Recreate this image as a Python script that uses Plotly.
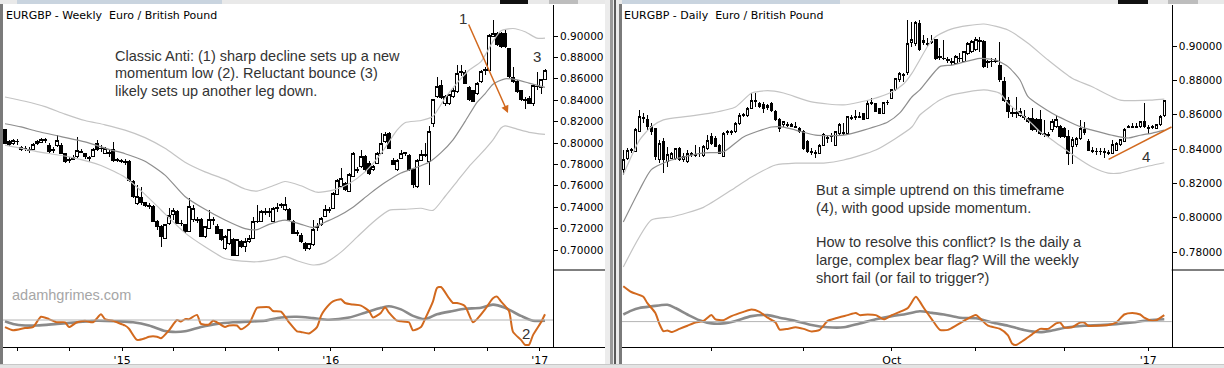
import numpy as np
import pandas as pd
import plotly.graph_objects as go

W, H = 1224, 368

# ---------------- Weekly EURGBP ----------------
wk_start = "2014-06-10"
wk_open = [.8122,.8013,.7994,.8010,.7935,.7953,.7940,.7941,.7997,.8003,.8025,.7981,.7930,.7975,.7981,.7904,.7835,.7850,.7872,.7925,
           .7900,.7866,.7872,.7997,.7950,.7904,.7910,.7935,.7845,.7835,.7830,.7826,.7639,.7436,.7490,.7440,.7420,.7405,.7265,.7218,
           .7109,.7249,.7330,.7358,.7250,.7234,.7171,.7281,.7285,.7281,.7125,.7203,.7275,.7218,.7187,.7016,.7062,.7094,.6953,.7078,
           .7031,.7080,.7109,.7262,.7265,.7355,.7360,.7265,.7390,.7415,.7374,.7374,.7265,.7160,.7140,.7062,.7016,.7047,.7220,.7234,
           .7312,.7370,.7390,.7515,.7592,.7623,.7545,.7685,.7752,.7779,.7872,.7810,.7748,.7810,.7904,.8013,.8090,.7841,.7748,.7857,
           .7900,.7880,.7748,.7592,.7841,.7885,.7826,.8184,.8433,.8533,.8365,.8371,.8433,.8480,.8660,.8660,.8520,.8489,.8458,.8573,
           .8675,.8682,.9000,.9025,.9020,.9025,.8880,.8614,.8573,.8489,.8405,.8418,.8365,.8530,.8520,.8595]
wk_high = [.8128,.8028,.8035,.8035,.7972,.7972,.7960,.7997,.8028,.8044,.8044,.8000,.7966,.8075,.8000,.7910,.7872,.7888,.8059,.7941,
           .7904,.7879,.7950,.8028,.7981,.7966,.7935,.8013,.7857,.7848,.7848,.7841,.7654,.7608,.7592,.7452,.7436,.7420,.7281,.7230,
           .7240,.7390,.7390,.7374,.7281,.7245,.7483,.7421,.7312,.7300,.7225,.7374,.7312,.7240,.7200,.7140,.7200,.7109,.7100,.7094,
           .7109,.7140,.7312,.7421,.7374,.7390,.7390,.7405,.7436,.7436,.7499,.7390,.7281,.7187,.7156,.7078,.7070,.7281,.7249,.7310,
           .7421,.7405,.7540,.7660,.7763,.7640,.7720,.7920,.7779,.7935,.7888,.7830,.7790,.7915,.8090,.8105,.8105,.7857,.7855,.7935,
           .7919,.7900,.7760,.7850,.7935,.7997,.8160,.8410,.8620,.8589,.8449,.8460,.8510,.8729,.8729,.8680,.8535,.8500,.8570,.8680,
           .8713,.9020,.9150,.9040,.9035,.9056,.8890,.8713,.8589,.8500,.8433,.8440,.8550,.8667,.8600,.8690]
wk_low = [.7990,.7972,.7985,.7981,.7925,.7929,.7904,.7935,.7981,.7997,.7997,.7910,.7904,.7966,.7895,.7810,.7810,.7841,.7857,.7904,
          .7848,.7826,.7866,.7929,.7919,.7895,.7872,.7826,.7820,.7810,.7795,.7640,.7483,.7421,.7421,.7400,.7385,.7260,.7187,.7031,
          .7100,.7234,.7281,.7240,.7225,.7160,.7165,.7265,.7249,.7125,.7110,.7195,.7234,.7150,.7080,.7000,.7050,.6950,.6945,.7020,
          .6985,.7070,.7100,.7249,.7260,.7327,.7312,.7260,.7358,.7390,.7365,.7270,.7150,.7135,.7070,.6995,.7000,.7040,.7180,.7225,
          .7305,.7343,.7385,.7510,.7585,.7550,.7540,.7680,.7717,.7770,.7730,.7700,.7740,.7800,.7895,.7997,.7940,.7790,.7740,.7850,
          .7880,.7740,.7580,.7580,.7835,.7872,.7608,.8150,.8420,.8410,.8350,.8355,.8420,.8470,.8630,.8550,.8395,.8380,.8445,.8565,
          .8640,.8670,.8990,.8910,.8890,.8890,.8610,.8565,.8470,.8395,.8315,.8360,.8350,.8495,.8460,.8590]
wk_close = [.7997,.7985,.8019,.8016,.7960,.7947,.7932,.7988,.8010,.8035,.8031,.7919,.7940,.8022,.7904,.7830,.7845,.7866,.7929,.7915,
            .7872,.7857,.7935,.7935,.7945,.7950,.7900,.7841,.7838,.7826,.7822,.7654,.7499,.7499,.7445,.7418,.7405,.7265,.7218,.7125,
            .7234,.7327,.7370,.7249,.7245,.7171,.7405,.7390,.7278,.7125,.7218,.7281,.7285,.7156,.7094,.7125,.7187,.6953,.7094,.7031,
            .7078,.7109,.7265,.7268,.7358,.7362,.7355,.7390,.7395,.7421,.7421,.7281,.7156,.7156,.7078,.7016,.7062,.7187,.7215,.7296,
            .7374,.7378,.7530,.7654,.7670,.7561,.7701,.7904,.7745,.7872,.7748,.7717,.7779,.7904,.7997,.8075,.7950,.7795,.7841,.7904,
            .7908,.7748,.7608,.7841,.7888,.7892,.8106,.8402,.8527,.8427,.8433,.8449,.8495,.8645,.8670,.8558,.8402,.8386,.8558,.8667,
            .8685,.9009,.9025,.8916,.8900,.8900,.8620,.8573,.8480,.8402,.8398,.8371,.8542,.8524,.8589,.8682]

wk_upper_idx = [0,5,10,15,20,25,30,35,40,45,50,55,60,63,67,70,74,78,82,86,90,94,98,100,104,107,110,113,116,119,122,124,127,130,133,135]
wk_upper = [.843,.839,.834,.827,.821,.817,.812,.805,.795,.782,.773,.766,.757,.755,.760,.764,.760,.754,.756,.762,.773,.790,.812,.819,.821,.825,.842,.856,.868,.876,.895,.905,.907,.904,.898,.898]
wk_mid_idx = [0,4,8,14,20,26,30,35,40,45,50,55,60,63,66,70,74,77,80,83,87,91,95,99,102,106,109,112,115,118,120,122,125,128,131,135]
wk_mid = [.818,.815,.811,.806,.801,.794,.790,.783,.770,.750,.738,.728,.720,.719,.724,.728,.724,.721,.726,.731,.740,.752,.763,.772,.776,.782,.791,.803,.820,.838,.846,.855,.860,.859,.856,.852]
wk_lower_idx = [0,8,16,24,30,35,39,45,50,55,58,63,68,70,73,77,80,84,88,92,96,100,104,107,110,113,116,119,122,124,125,128,131,135]
wk_lower = [.798,.792,.787,.779,.768,.752,.7374,.716,.703,.692,.690,.689,.692,.694,.690,.686,.688,.698,.712,.726,.737,.738,.739,.737,.750,.764,.778,.790,.803,.814,.816,.813,.810,.808]

wk_osc_idx = [0,2,5,7,9,11,13,15,16,18,20,22,24,25,27,28,30,31,33,35,36,38,39,41,43,44,45,46,48,49,51,52,53,55,56,58,59,61,63,64,
              66,67,69,71,73,74,76,78,79,80,82,84,85,87,89,91,92,94,95,96,98,99,101,102,104,105,107,108,109,111,112,113,115,117,118,120,122,123,124,126,
              127,129,130,131,132,134,135]
wk_osc = [-7.1,-10.3,-8.1,-7.1,3.2,0.9,-2.3,-2.3,-7.1,-2.3,-0.7,-2.3,5.7,0.9,-0.7,-2.3,-5.5,-8.7,-19.9,-18.3,-16.7,-16.7,-18.3,-10.3,0.0,-1.6,0.9,0.9,5.1,-3.9,
          -4.5,-0.7,-2.3,-7.1,-5.5,-5.5,-9.3,-3.9,12.2,12.8,12.8,9.0,8.3,-2.3,-11.3,-11.9,-13.5,-7.1,4.1,10.6,18.6,20.8,17.0,15.4,14.4,9.0,2.5,7.3,12.8,7.3,
          -0.7,-1.3,-2.3,-10.3,-7.1,0.9,18.6,32.1,33.0,21.8,17.0,17.0,13.8,-2.3,0.9,10.6,21.8,23.4,18.6,9.0,-11.9,-19.9,-24.8,-24.8,-15.1,-2.3,5.7]
wk_sig_idx = [0,2,5,8,13,18,23,28,32,36,40,42,45,49,53,57,61,65,69,73,77,81,86,90,94,96,99,102,105,108,112,115,119,122,125,129,132,135]
wk_sig = [-1.3,-3.9,-5.5,-5.5,-3.9,-2.3,-0.7,-1.3,-2.3,-5.5,-11.0,-11.9,-11.3,-7.1,-3.9,-2.3,-1.6,-0.7,2.5,3.2,1.9,0.3,2.5,7.3,12.2,13.8,10.6,4.1,0.9,5.7,9.0,11.2,12.2,15.4,12.2,4.1,-0.7,-0.7]
wk_tick_dates = ["2014-07-01","2014-10-01","2015-01-01","2015-04-01","2015-07-01","2015-10-01","2016-01-01","2016-04-01","2016-07-01","2016-10-01","2017-01-01"]
wk_tick_text = ["", "", "'15", "", "", "", "'16", "", "", "", "'17"]
wk_price_ticks = [0.70, 0.72, 0.74, 0.76, 0.78, 0.80, 0.82, 0.84, 0.86, 0.88, 0.90]
wk_arrow_idx = [115.75, 125.75]
wk_arrow_px = [0.9121, 0.828]

# ---------------- Daily EURGBP ----------------
dy_start = "2016-06-30"
dy_holidays = ["2016-12-26", "2017-01-02"]
dy_open = [.8282,.8345,.8392,.8384,.8501,.8585,.8569,.8530,.8520,.8336,.8442,.8326,.8345,.8345,.8404,.8336,.8326,.8370,.8367,.8372,
           .8365,.8404,.8472,.8462,.8423,.8355,.8495,.8501,.8501,.8549,.8596,.8598,.8637,.8680,.8666,.8660,.8640,.8666,.8617,.8569,
           .8540,.8542,.8540,.8532,.8520,.8501,.8442,.8386,.8378,.8374,.8423,.8465,.8470,.8423,.8491,.8495,.8491,.8575,.8585,.8586,
           .8608,.8579,.8664,.8666,.8637,.8608,.8668,.8695,.8744,.8802,.8835,.8843,.9020,.9017,.9132,.9031,.9016,.9020,.9035,.8935,
           .8930,.8920,.8912,.8899,.8930,.8909,.8957,.8967,.8977,.9028,.9025,.8905,.8908,.8910,.8889,.8792,.8685,.8612,.8606,.8598,
           .8592,.8579,.8579,.8569,.8569,.8490,.8485,.8511,.8530,.8530,.8520,.8472,.8414,.8424,.8462,.8515,.8443,.8390,.8387,.8384,
           .8383,.8378,.8375,.8394,.8424,.8443,.8528,.8530,.8528,.8530,.8559,.8528,.8526,.8520,.8540,.8598]
dy_high = [.8394,.8407,.8407,.8520,.8627,.8608,.8598,.8549,.8522,.8452,.8462,.8413,.8380,.8407,.8410,.8374,.8394,.8384,.8423,.8413,
           .8423,.8481,.8491,.8476,.8430,.8501,.8511,.8511,.8560,.8612,.8608,.8647,.8724,.8724,.8676,.8676,.8660,.8676,.8627,.8579,
           .8565,.8559,.8549,.8559,.8530,.8511,.8452,.8404,.8394,.8430,.8491,.8481,.8491,.8505,.8549,.8549,.8595,.8598,.8627,.8617,
           .8612,.8685,.8695,.8670,.8640,.8676,.8685,.8750,.8815,.8850,.8841,.9151,.9140,.9145,.9150,.9064,.9045,.9064,.9040,.8986,
           .9035,.8938,.8928,.8945,.8957,.8970,.9022,.9035,.9051,.9051,.9035,.8918,.8928,.8928,.9025,.8821,.8705,.8637,.8705,.8637,
           .8627,.8588,.8637,.8579,.8627,.8569,.8500,.8575,.8600,.8540,.8530,.8511,.8472,.8470,.8569,.8560,.8460,.8414,.8404,.8404,
           .8404,.8394,.8453,.8440,.8460,.8520,.8540,.8550,.8550,.8565,.8666,.8540,.8540,.8545,.8598,.8685]
dy_low = [.8248,.8336,.8374,.8380,.8499,.8549,.8511,.8481,.8336,.8316,.8258,.8297,.8340,.8336,.8330,.8326,.8316,.8355,.8355,.8355,
          .8355,.8394,.8423,.8410,.8370,.8351,.8481,.8481,.8495,.8540,.8588,.8588,.8635,.8647,.8637,.8608,.8630,.8617,.8565,.8501,
          .8530,.8530,.8528,.8520,.8495,.8394,.8374,.8365,.8345,.8370,.8419,.8433,.8442,.8419,.8481,.8481,.8487,.8569,.8569,.8579,
          .8570,.8577,.8656,.8617,.8605,.8606,.8656,.8690,.8740,.8792,.8792,.8830,.8995,.9000,.8970,.9006,.8996,.9010,.8920,.8918,
          .8918,.8899,.8889,.8895,.8909,.8905,.8950,.8960,.8970,.8967,.8870,.8870,.8880,.8899,.8792,.8676,.8579,.8588,.8579,.8588,
          .8569,.8550,.8505,.8500,.8480,.8472,.8470,.8500,.8525,.8465,.8462,.8307,.8310,.8410,.8455,.8480,.8390,.8375,.8365,.8365,
          .8346,.8365,.8370,.8390,.8420,.8440,.8520,.8520,.8520,.8525,.8520,.8485,.8515,.8515,.8535,.8588]
dy_close = [.8340,.8394,.8396,.8511,.8588,.8575,.8530,.8501,.8355,.8433,.8336,.8370,.8374,.8404,.8336,.8355,.8372,.8374,.8365,.8376,
            .8413,.8452,.8433,.8413,.8374,.8491,.8501,.8497,.8549,.8598,.8600,.8637,.8685,.8674,.8647,.8637,.8652,.8627,.8569,.8520,
            .8559,.8538,.8532,.8528,.8501,.8404,.8384,.8382,.8372,.8423,.8487,.8460,.8474,.8501,.8540,.8489,.8588,.8581,.8590,.8590,
            .8573,.8666,.8668,.8617,.8608,.8670,.8672,.8744,.8812,.8841,.8827,.9017,.9040,.9134,.8977,.9020,.9010,.9028,.8928,.8940,
            .8925,.8915,.8905,.8938,.8926,.8967,.9016,.9025,.9035,.9033,.8880,.8912,.8912,.8914,.8802,.8685,.8617,.8605,.8610,.8617,
            .8586,.8559,.8511,.8511,.8491,.8482,.8480,.8559,.8569,.8472,.8472,.8375,.8453,.8462,.8520,.8495,.8394,.8385,.8383,.8386,
            .8379,.8376,.8424,.8433,.8453,.8511,.8532,.8528,.8532,.8559,.8530,.8522,.8530,.8540,.8588,.8680]

dy_upper_idx = [0,4,7,10,16,22,28,32,36,40,47,55,62,67,70,72,74,76,78,82,90,96,101,106,112,117,124,132,135]
dy_upper = [.825,.845,.853,.857,.859,.861,.8645,.8726,.874,.8726,.8674,.8657,.869,.8732,.878,.884,.892,.900,.9055,.910,.9128,.9093,.9016,.8918,.8812,.8763,.8685,.8685,.869]
dy_mid_idx = [0,4,7,12,20,25,30,37,40,43,48,55,60,66,69,72,74,79,82,89,93,96,99,101,107,114,117,122,126,129,132,135]
dy_mid = [.7975,.816,.828,.8336,.8377,.8383,.847,.8528,.8528,.851,.8481,.8481,.851,.8557,.861,.8703,.8744,.888,.8889,.8928,.8918,.888,.8802,.8705,.8608,.853,.851,.848,.8464,.848,.8493,.851]
dy_lower_idx = [0,7,12,20,27,32,38,43,50,55,63,72,74,79,82,90,94,96,101,104,107,113,117,121,124,129,135]
dy_lower = [.7713,.7986,.8004,.806,.8161,.8237,.8307,.8318,.8318,.8336,.8394,.8528,.8598,.8685,.8715,.8744,.8724,.8666,.857,.850,.8453,.8353,.8295,.826,.826,.829,.832]

dy_osc_idx = [0,2,5,6,8,9,10,11,12,14,16,18,20,22,23,25,27,30,32,34,36,38,39,41,43,45,47,49,51,53,56,58,59,61,63,65,67,69,71,73,
              74,75,77,79,81,83,85,88,89,91,94,96,97,98,100,102,104,106,108,109,110,112,114,115,116,118,121,123,125,127,129,130,132,133,135]
dy_osc = [35.4,29.6,24.8,18.4,8.7,-2.2,-9.6,-8.9,-10.5,-7.3,-4.1,-0.9,0.7,6.5,2.3,1.4,5.5,9.7,12.0,9.7,3.9,-0.9,-8.0,-7.3,-5.7,-7.3,-9.9,-8.3,0.7,3.3,
          6.5,8.7,6.5,7.1,6.5,2.3,6.5,9.7,13.6,24.8,20.0,13.6,2.3,-8.3,-8.3,-4.1,0.7,6.5,3.3,-4.1,-7.3,-13.7,-21.8,-23.4,-18.5,-12.8,-7.3,-7.3,-1.8,-0.9,
          -5.7,-5.7,-0.9,-0.9,-4.1,-4.1,-3.5,-0.9,7.1,8.7,7.1,3.9,0.7,1.4,6.5]
dy_sig_idx = [0,2,4,7,11,13,16,19,22,25,28,32,36,39,43,47,51,55,59,63,67,70,74,77,80,84,88,92,96,100,104,107,111,115,119,123,127,131,135]
dy_sig = [7.1,11.0,13.6,15.2,16.8,13.6,7.1,1.4,-1.8,-1.8,0.7,5.5,6.5,3.9,0.7,-3.5,-5.7,-5.7,-1.8,2.3,5.5,7.1,10.4,8.7,7.1,3.9,3.3,-0.9,-4.1,-8.3,-10.5,-8.9,-5.7,-4.1,-3.5,-2.5,-0.9,1.4,2.3]
dy_tick_dates = ["2016-08-01","2016-09-01","2016-10-03","2016-11-01","2016-12-01","2017-01-03"]
dy_tick_text = ["", "", "Oct", "", "", "'17"]
dy_price_ticks = [0.78, 0.80, 0.82, 0.84, 0.86, 0.88, 0.90]
dy_trend_idx = [121.1, 136.8]
dy_trend_px = [0.8340, 0.8528]

# ---------------- helpers ----------------
wk0 = pd.Timestamp(wk_start)
def wk_date(i):
    return wk0 + pd.to_timedelta(np.asarray(i, dtype=float) * 7, unit="D")

dy_days = pd.bdate_range(dy_start, periods=260)
dy_days = dy_days[~dy_days.isin(pd.to_datetime(dy_holidays))]
def dy_date_one(j):
    j = float(j)
    if j < 0:
        return dy_days[0] + pd.Timedelta(days=j)
    k = int(np.floor(j))
    return dy_days[k] + pd.Timedelta(days=j - k)
def dy_date(js):
    return [dy_date_one(j) for j in js]

def fx(px):
    return px / W
def fy(py):
    return 1 - py / H

ORANGE = "#D2691E"
BAND_LT = "#c4c4c4"
BAND_MID = "#8e8e8e"
SIG = "#8a8a8a"

fig = go.Figure()

# weekly
wk_x = wk_date(range(len(wk_open)))
candle_style = dict(increasing=dict(line=dict(color="black", width=1), fillcolor="white"),
                    decreasing=dict(line=dict(color="black", width=1), fillcolor="black"),
                    whiskerwidth=0, showlegend=False, hoverinfo="skip")
fig.add_trace(go.Scatter(x=wk_date(wk_upper_idx), y=wk_upper, mode="lines", line=dict(color=BAND_LT, width=1.2, shape="spline", smoothing=0.6), xaxis="x", yaxis="y", showlegend=False))
fig.add_trace(go.Scatter(x=wk_date(wk_lower_idx), y=wk_lower, mode="lines", line=dict(color=BAND_LT, width=1.2, shape="spline", smoothing=0.6), xaxis="x", yaxis="y", showlegend=False))
fig.add_trace(go.Scatter(x=wk_date(wk_mid_idx), y=wk_mid, mode="lines", line=dict(color=BAND_MID, width=1.2, shape="spline", smoothing=0.6), xaxis="x", yaxis="y", showlegend=False))
fig.add_trace(go.Candlestick(x=wk_x, open=wk_open, high=wk_high, low=wk_low, close=wk_close, xaxis="x", yaxis="y", **candle_style))
fig.add_trace(go.Scatter(x=wk_date(wk_sig_idx), y=wk_sig, mode="lines", line=dict(color=SIG, width=2.6, shape="spline", smoothing=0.8), xaxis="x", yaxis="y3", showlegend=False))
fig.add_trace(go.Scatter(x=wk_date(wk_osc_idx), y=wk_osc, mode="lines", line=dict(color=ORANGE, width=2, shape="spline", smoothing=0.6), xaxis="x", yaxis="y3", showlegend=False))

# daily
dy_x = dy_date(range(len(dy_open)))
fig.add_trace(go.Scatter(x=dy_date(dy_upper_idx), y=dy_upper, mode="lines", line=dict(color=BAND_LT, width=1.2, shape="spline", smoothing=0.6), xaxis="x2", yaxis="y2", showlegend=False))
fig.add_trace(go.Scatter(x=dy_date(dy_lower_idx), y=dy_lower, mode="lines", line=dict(color=BAND_LT, width=1.2, shape="spline", smoothing=0.6), xaxis="x2", yaxis="y2", showlegend=False))
fig.add_trace(go.Scatter(x=dy_date(dy_mid_idx), y=dy_mid, mode="lines", line=dict(color=BAND_MID, width=1.2, shape="spline", smoothing=0.6), xaxis="x2", yaxis="y2", showlegend=False))
fig.add_trace(go.Candlestick(x=dy_x, open=dy_open, high=dy_high, low=dy_low, close=dy_close, xaxis="x2", yaxis="y2", **candle_style))
fig.add_trace(go.Scatter(x=dy_date(dy_trend_idx), y=dy_trend_px, mode="lines", line=dict(color=ORANGE, width=1.5), xaxis="x2", yaxis="y2", showlegend=False))
fig.add_trace(go.Scatter(x=dy_date(dy_sig_idx), y=dy_sig, mode="lines", line=dict(color=SIG, width=2.6, shape="spline", smoothing=0.8), xaxis="x2", yaxis="y4", showlegend=False))
fig.add_trace(go.Scatter(x=dy_date(dy_osc_idx), y=dy_osc, mode="lines", line=dict(color=ORANGE, width=2, shape="spline", smoothing=0.6), xaxis="x2", yaxis="y4", showlegend=False))

TICKFONT = dict(family="DejaVu Sans", size=10.5, color="black")
common_x = dict(type="date", showgrid=False, zeroline=False, showline=True, linecolor="black", linewidth=1,
                ticks="outside", ticklen=3, tickcolor="black", tickfont=dict(family="DejaVu Sans", size=11, color="black"),
                rangeslider=dict(visible=False), fixedrange=True)
common_y = dict(showgrid=False, zeroline=False, showline=True, linecolor="black", linewidth=1, side="right", anchor="free", fixedrange=True)

fig.update_layout(
    width=W, height=H, margin=dict(l=0, r=0, t=0, b=0),
    paper_bgcolor="white", plot_bgcolor="white", showlegend=False,
    boxgap=0.25, boxgroupgap=0.25,
    xaxis=dict(domain=[fx(3), fx(605)], anchor="y3", range=[wk_date(-0.5), wk_date(150)],
               tickmode="array", tickvals=wk_tick_dates, ticktext=wk_tick_text, **common_x),
    yaxis=dict(domain=[fy(270), fy(5)], position=fx(553), range=[0.68131, 0.92897],
               tickmode="array", tickvals=wk_price_ticks, tickformat=".5f", ticks="outside", ticklen=4, tickcolor="black",
               tickfont=TICKFONT, **common_y),
    yaxis3=dict(domain=[fy(347), fy(270)], position=fx(553), range=[-27, 50], showticklabels=False, ticks="", **common_y),
    xaxis2=dict(domain=[fx(622), 1.0], anchor="y4", range=[dy_date_one(-0.325), dy_date_one(149.9)],
                rangebreaks=[dict(bounds=["sat", "mon"]), dict(values=dy_holidays)],
                tickmode="array", tickvals=dy_tick_dates, ticktext=dy_tick_text, **common_x),
    yaxis2=dict(domain=[fy(270), fy(5)], position=fx(1171.7), range=[0.76952, 0.92388],
                tickmode="array", tickvals=dy_price_ticks, tickformat=".5f", ticks="outside", ticklen=4, tickcolor="black",
                tickfont=TICKFONT, **common_y),
    yaxis4=dict(domain=[fy(347), fy(270)], position=fx(1171.7), range=[-25.4, 51.6], showticklabels=False, ticks="", **common_y),
)

# baselines of the oscillator panes
fig.add_shape(type="line", xref="x domain", yref="y3", x0=0, x1=(553 - 3) / (605 - 3), y0=0, y1=0, line=dict(color="#b4b4b4", width=1))
fig.add_shape(type="line", xref="x2 domain", yref="y4", x0=0, x1=(1171.7 - 622) / (1224 - 622), y0=0, y1=0, line=dict(color="#b4b4b4", width=1))

# frame decorations
def prect(x0, y0, x1, y1, fill, line=None):
    fig.add_shape(type="rect", xref="paper", yref="paper", x0=fx(x0), x1=fx(x1), y0=fy(y1), y1=fy(y0),
                  fillcolor=fill, line=dict(width=0) if line is None else line, layer="above")
def pline(x0, y0, x1, y1, color, width=1):
    fig.add_shape(type="line", xref="paper", yref="paper", x0=fx(x0), x1=fx(x1), y0=fy(y0), y1=fy(y1),
                  line=dict(color=color, width=width), layer="above")

prect(0, 0, W, 4, "#e9e9e9")
prect(17, 0, 222, 4, "#c9d4df")
prect(622, 0, 840, 4, "#c9d4df")
prect(500, 0, 528, 4, "#111111")
prect(549, 0, 578, 4, "#bdbdbd")
prect(1118, 0, 1148, 4, "#111111")
prect(1168, 0, 1198, 4, "#bdbdbd")
prect(0, 4, 3, 368, "#7a7a7a")
prect(605, 0, 619, 368, "#ececec")
prect(610, 0, 613, 368, "#9a9a9a")
prect(614, 0, 616, 368, "#5a5a5a")
prect(619, 4, 622, 368, "#7a7a7a")
prect(0, 365, W, 368, "#e4e4e4")
pline(0, 364.5, W, 364.5, "#c8c8c8")
pline(553, 270, 605, 270, "black")
pline(1171.7, 270, 1224, 270, "black")

# texts
def txt(x, y, s, size=14.5, color="#333333", family="Liberation Sans", anchor="left"):
    fig.add_annotation(x=fx(x), y=fy(y), xref="paper", yref="paper", text=s, showarrow=False,
                       xanchor=anchor, yanchor="middle", font=dict(family=family, size=size, color=color))

txt(4, 15, "EURGBP - Weekly\u00a0 Euro / British Pound", size=11, color="black", family="DejaVu Sans")
txt(622, 15, "EURGBP - Daily\u00a0 Euro / British Pound", size=11, color="black", family="DejaVu Sans")
txt(113, 56, "Classic Anti: (1) sharp decline sets up a new")
txt(113, 73.5, "momentum low (2). Reluctant bounce (3)")
txt(113, 91, "likely sets up another leg down.")
txt(10, 295, "adamhgrimes.com", size=14.5, color="#a6a6a6")
txt(814, 190, "But a simple uptrend on this timeframe")
txt(814, 208, "(4), with good upside momentum.")
txt(814, 242, "How to resolve this conflict? Is the daily a")
txt(814, 260, "large, complex bear flag? Will the weekly")
txt(814, 278, "short fail (or fail to trigger?)")
txt(463, 18, "1", size=15, anchor="center")
txt(537, 56, "3", size=15, anchor="center")
txt(526, 333, "2", size=15, anchor="center")
txt(1146, 157, "4", size=15, anchor="center")

# arrow (1) -> decline
fig.add_annotation(x=wk_date(wk_arrow_idx[1]), y=wk_arrow_px[1], ax=wk_date(wk_arrow_idx[0]), ay=wk_arrow_px[0],
                   xref="x", yref="y", axref="x", ayref="y", text="", showarrow=True,
                   arrowhead=2, arrowsize=1, arrowwidth=1.5, arrowcolor=ORANGE)

post = ("document.body.style.margin='0';document.body.style.padding='0';document.body.style.overflow='hidden';"
        "document.querySelectorAll('.boxlayer path').forEach(function(p){p.style.shapeRendering='crispEdges';});")
fig.write_html("out.html", config={"displayModeBar": False, "staticPlot": True}, post_script=post)
